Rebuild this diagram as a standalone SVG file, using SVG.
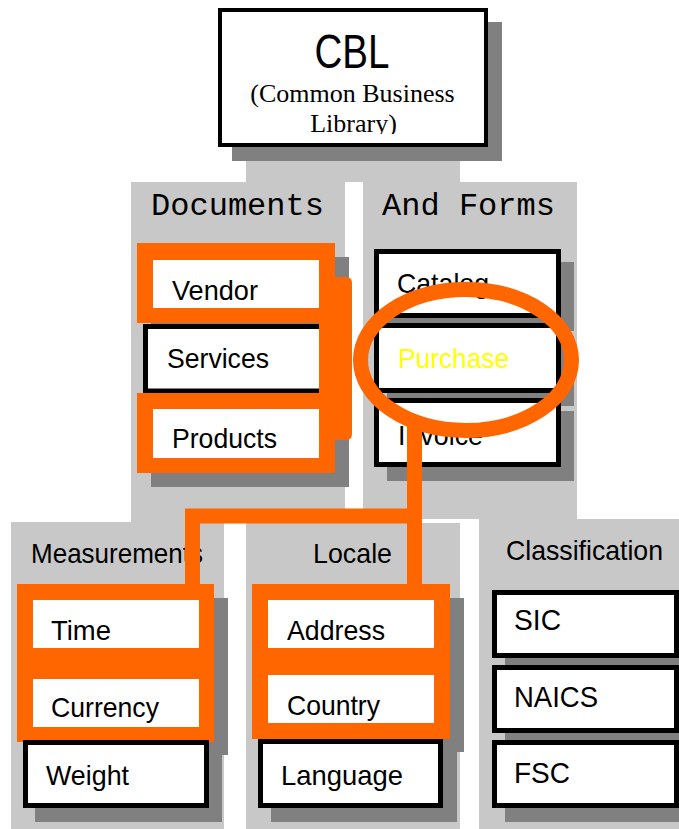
<svg xmlns="http://www.w3.org/2000/svg" width="679" height="829" viewBox="0 0 679 829">
<style>
.panel{fill:#c8c8c8}
.shadow{fill:#808080}
.box{fill:#fff;stroke:#000;stroke-width:5}
.cbl{fill:#fff;stroke:#000;stroke-width:4}
.hl{fill:#ff6600}
.win{fill:#fff}
.lbl{font-family:"Liberation Sans",Arial,sans-serif;font-size:28px;fill:#000}
.big{font-size:30px}
.mono{font-family:"Liberation Mono","Courier New",monospace;font-size:31px;fill:#000}
.serif{font-family:"Liberation Serif","Times New Roman",serif;font-size:26px;fill:#000}
.conn{fill:none;stroke:#ff6600;stroke-width:15}
</style>
<defs>
<clipPath id="cblclip"><rect x="222" y="12" width="262" height="122"/></clipPath>
</defs>
<rect width="679" height="829" fill="#fff"/>

<g id="panels">
<rect class="panel" x="246" y="150" width="214" height="32"/>
<rect class="panel" x="131" y="182" width="214" height="340"/>
<rect class="panel" x="363" y="182" width="214" height="337"/>
<rect class="panel" x="11" y="522" width="213" height="307"/>
<rect class="panel" x="246" y="523" width="214" height="306"/>
<rect class="panel" x="479" y="519" width="200" height="310"/>
</g>

<g id="cbl">
<rect class="shadow" x="232" y="22" width="270" height="139"/>
<rect class="cbl" x="220" y="10" width="266" height="135"/>
<text class="lbl" x="352" y="68" style="font-size:48px" text-anchor="middle" textLength="75" lengthAdjust="spacingAndGlyphs">CBL</text>
<g clip-path="url(#cblclip)">
<text class="serif" x="352.5" y="102" text-anchor="middle">(Common Business</text>
<text class="serif" x="353.5" y="132" text-anchor="middle">Library)</text>
</g>
</g>

<g id="documents">
<text class="mono" x="151" y="215" textLength="173" lengthAdjust="spacingAndGlyphs">Documents</text>
<rect class="shadow" x="151" y="257" width="198" height="230"/>
<rect class="box" x="145.5" y="326.5" width="190" height="64.5"/>
<g id="vendor">
<rect class="hl" x="137" y="243" width="198" height="80"/>
<rect class="win" x="153" y="260" width="166" height="48"/>
<text class="lbl" x="172" y="300" textLength="86" lengthAdjust="spacingAndGlyphs">Vendor</text>
</g>
<g id="services">
<text class="lbl" x="167" y="368" textLength="102" lengthAdjust="spacingAndGlyphs">Services</text>
</g>
<g id="products">
<rect class="hl" x="137" y="393" width="198" height="80"/>
<rect class="win" x="153" y="409" width="166" height="49"/>
<text class="lbl" x="172" y="448" textLength="105" lengthAdjust="spacingAndGlyphs">Products</text>
</g>
<rect class="hl" x="319" y="320" width="16" height="76"/>
</g>

<g id="forms">
<text class="mono" x="382" y="215" textLength="173" lengthAdjust="spacingAndGlyphs">And Forms</text>
<rect class="shadow" x="387" y="262" width="187" height="69"/>
<rect class="shadow" x="387" y="336" width="187" height="70"/>
<rect class="shadow" x="387" y="411" width="187" height="70"/>
<g id="catalog">
<rect class="box" x="376.5" y="251.5" width="182" height="64"/>
<text class="lbl" x="397" y="293" textLength="92" lengthAdjust="spacingAndGlyphs">Catalog</text>
</g>
<g id="purchase">
<rect class="box" x="376.5" y="325.5" width="182" height="65"/>
<text class="lbl" x="398" y="368" style="fill:#ffff00" textLength="111" lengthAdjust="spacingAndGlyphs">Purchase</text>
</g>
<g id="invoice">
<rect class="box" x="376.5" y="400.5" width="182" height="64"/>
<text class="lbl" x="398" y="445" textLength="85" lengthAdjust="spacingAndGlyphs">Invoice</text>
</g>
</g>

<g id="measurements">
<text class="lbl" x="31" y="563" textLength="172" lengthAdjust="spacingAndGlyphs">Measurements</text>
<rect class="shadow" x="31" y="598" width="197" height="157"/>
<rect class="shadow" x="35" y="754" width="187" height="68"/>
<rect class="hl" x="17" y="584" width="197" height="158"/>
<g id="time">
<rect class="win" x="33" y="600" width="166" height="48"/>
<text class="lbl" x="51" y="640" textLength="60" lengthAdjust="spacingAndGlyphs">Time</text>
</g>
<g id="currency">
<rect class="win" x="33" y="679" width="166" height="48"/>
<text class="lbl" x="51" y="717" textLength="108" lengthAdjust="spacingAndGlyphs">Currency</text>
</g>
<g id="weight">
<rect class="box" x="25.5" y="742.5" width="181" height="63"/>
<text class="lbl" x="46" y="785" textLength="83" lengthAdjust="spacingAndGlyphs">Weight</text>
</g>
</g>

<g id="locale">
<text class="lbl" x="313" y="563" textLength="79" lengthAdjust="spacingAndGlyphs">Locale</text>
<rect class="shadow" x="266" y="598" width="198" height="154"/>
<rect class="shadow" x="271" y="752" width="186" height="70"/>
<rect class="hl" x="252" y="584" width="198" height="155"/>
<g id="address">
<rect class="win" x="268" y="600" width="166" height="48"/>
<text class="lbl" x="287" y="640" textLength="98" lengthAdjust="spacingAndGlyphs">Address</text>
</g>
<g id="country">
<rect class="win" x="268" y="675" width="166" height="48"/>
<text class="lbl" x="287" y="715" textLength="93" lengthAdjust="spacingAndGlyphs">Country</text>
</g>
<g id="language">
<rect class="box" x="260.5" y="741.5" width="180" height="64"/>
<text class="lbl" x="281" y="785" textLength="122" lengthAdjust="spacingAndGlyphs">Language</text>
</g>
</g>

<g id="classification">
<text class="lbl" x="506" y="560" textLength="157" lengthAdjust="spacingAndGlyphs">Classification</text>
<rect class="shadow" x="505" y="603" width="174" height="68"/>
<rect class="shadow" x="505" y="678" width="174" height="68"/>
<rect class="shadow" x="505" y="753" width="174" height="69"/>
<g id="sic">
<rect class="box" x="494.5" y="592.5" width="182" height="63"/>
<text class="lbl big" x="514" y="630" textLength="47" lengthAdjust="spacingAndGlyphs">SIC</text>
</g>
<g id="naics">
<rect class="box" x="494.5" y="667.5" width="182" height="63"/>
<text class="lbl big" x="514" y="707" textLength="84" lengthAdjust="spacingAndGlyphs">NAICS</text>
</g>
<g id="fsc">
<rect class="box" x="494.5" y="742.5" width="182" height="63"/>
<text class="lbl big" x="514" y="783" textLength="56" lengthAdjust="spacingAndGlyphs">FSC</text>
</g>
</g>

<g id="connectors">
<path class="hl" d="M335 277 H346 Q352 277 352 283 V434 Q352 440 346 440 H335 Z"/>
<ellipse cx="466" cy="360" rx="105.5" ry="70.5" fill="none" stroke="#ff6600" stroke-width="15"/>
<path class="conn" d="M414.5 425 V585 M414.5 516 H192.5 V585"/>
</g>
</svg>
